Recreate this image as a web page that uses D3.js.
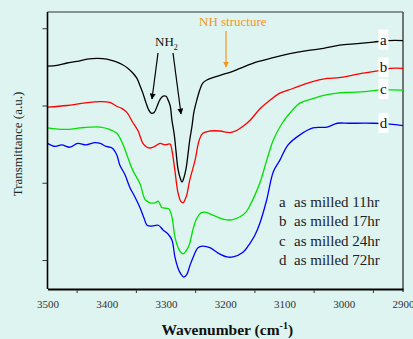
<!DOCTYPE html>
<html>
<head>
<meta charset="utf-8">
<script src="https://cdn.jsdelivr.net/npm/d3@7"></script>
<style>
  body { margin: 0; background: #ddf4f0; }
  svg { display: block; font-family: "Liberation Serif", "Times New Roman", serif; }
</style>
</head>
<body>
<div class="svg-div"></div>
<script>
// wavenumber (cm-1), transmittance (a.u.)
const seriesA = [[3500,3.51],[3484,3.52],[3467,3.55],[3450,3.57],[3433,3.60],[3416,3.61],[3400,3.60],[3386,3.57],
  [3374,3.53],[3364,3.48],[3356,3.42],[3349,3.35],[3344,3.26],[3339,3.16],[3334,3.04],[3329,2.94],[3325,2.90],
  [3320,2.91],[3315,2.99],[3310,3.08],[3305,3.12],[3300,3.12],[3297,3.08],[3293,3.00],[3290,2.81],[3286,2.62],
  [3283,2.40],[3280,2.19],[3276,2.06],[3273,2.01],[3270,2.06],[3266,2.19],[3263,2.36],[3260,2.55],[3256,2.74],
  [3253,2.91],[3248,3.07],[3243,3.20],[3238,3.29],[3231,3.33],[3221,3.36],[3209,3.39],[3192,3.43],[3175,3.48],
  [3148,3.56],[3119,3.62],[3091,3.67],[3062,3.71],[3034,3.74],[3007,3.78],[2978,3.80],[2950,3.82],[2924,3.84],[2900,3.84]];
const seriesB = [[3500,2.98],[3467,3.00],[3440,3.03],[3411,3.05],[3395,3.04],[3383,2.99],[3374,2.96],[3366,2.91],
  [3356,2.78],[3347,2.67],[3339,2.51],[3332,2.46],[3327,2.45],[3319,2.47],[3310,2.51],[3302,2.49],[3293,2.50],
  [3290,2.42],[3285,2.16],[3280,1.88],[3275,1.76],[3271,1.74],[3268,1.78],[3265,1.84],[3260,2.03],[3251,2.29],
  [3244,2.55],[3238,2.64],[3226,2.67],[3209,2.67],[3192,2.65],[3180,2.68],[3170,2.73],[3158,2.81],[3141,2.96],
  [3124,3.07],[3108,3.16],[3086,3.22],[3057,3.30],[3028,3.35],[3008,3.36],[2967,3.42],[2940,3.45],[2922,3.48],[2900,3.48]];
const seriesC = [[3500,2.71],[3470,2.69],[3445,2.71],[3428,2.72],[3411,2.72],[3395,2.69],[3383,2.64],[3374,2.52],
  [3366,2.36],[3356,2.16],[3344,1.99],[3335,1.78],[3327,1.74],[3319,1.74],[3313,1.76],[3307,1.68],[3300,1.67],
  [3295,1.66],[3290,1.56],[3285,1.30],[3280,1.17],[3275,1.10],[3271,1.08],[3266,1.12],[3261,1.19],[3254,1.41],
  [3248,1.54],[3241,1.61],[3234,1.62],[3221,1.58],[3204,1.53],[3189,1.52],[3175,1.56],[3165,1.62],[3158,1.71],
  [3150,1.84],[3141,2.01],[3130,2.29],[3119,2.55],[3104,2.77],[3090,2.91],[3074,3.03],[3052,3.09],[3028,3.14],
  [3011,3.16],[2991,3.17],[2964,3.18],[2940,3.20],[2900,3.20]];
const seriesD = [[3500,2.51],[3487,2.47],[3476,2.49],[3462,2.46],[3449,2.51],[3435,2.49],[3420,2.52],[3411,2.51],
  [3401,2.47],[3391,2.45],[3383,2.36],[3378,2.23],[3369,2.10],[3361,1.94],[3352,1.81],[3344,1.68],[3337,1.54],
  [3332,1.45],[3324,1.44],[3313,1.45],[3305,1.39],[3297,1.34],[3290,1.26],[3285,1.04],[3280,0.90],[3275,0.82],
  [3270,0.78],[3265,0.81],[3260,0.92],[3254,1.04],[3246,1.16],[3238,1.18],[3226,1.16],[3212,1.09],[3197,1.04],
  [3187,1.04],[3170,1.10],[3158,1.22],[3150,1.32],[3141,1.49],[3130,1.78],[3119,2.14],[3108,2.29],[3094,2.49],
  [3074,2.62],[3052,2.71],[3028,2.72],[3011,2.77],[2991,2.77],[2950,2.77],[2922,2.76],[2900,2.74]];

const curveLetters = ["a", "b", "c", "d"];
const legendText = ["as milled 11hr", "as milled 17hr", "as milled 24hr", "as milled 72hr"];
const colors = ["#000000", "#ff0000", "#00e000", "#0000ff"];
const xTicks = [3500, 3400, 3300, 3200, 3100, 3000, 2900];
const yTicks = [1, 2, 3, 4];

const svgWidth = 413, svgHeight = 339;
const margin = {top: 12, right: 10, bottom: 50, left: 47.5};
const width = svgWidth - margin.left - margin.right;
const height = svgHeight - margin.top - margin.bottom;

const svg = d3.select(".svg-div").append("svg")
  .attr("width", svgWidth)
  .attr("height", svgHeight);

svg.append("rect").attr("width", svgWidth).attr("height", svgHeight).attr("fill", "#ddf4f0");

const x = d3.scaleLinear().domain([3500, 2900]).range([0, width]);
const y = d3.scaleLinear().domain([0.625, 4.21]).range([height, 0]);

const g = svg.append("g")
  .attr("transform", "translate(" + margin.left + "," + margin.top + ")");

// frame top/right
g.append("line").attr("x1", 0).attr("x2", width).attr("y1", 0).attr("y2", 0)
  .attr("stroke", "#333").attr("stroke-width", 1.2);
g.append("line").attr("x1", width).attr("x2", width).attr("y1", 0).attr("y2", height + 3)
  .attr("stroke", "#555").attr("stroke-width", 1.6);

// curves
const line = d3.line()
  .x(function (d) { return x(d[0]) })
  .y(function (d) { return y(d[1]) })
  .curve(d3.curveCatmullRom.alpha(0.5));

const allSeries = [seriesA, seriesB, seriesC, seriesD];
allSeries.forEach(function (s, i) {
  g.append("path")
    .datum(s)
    .attr("fill", "none")
    .attr("stroke", colors[i])
    .attr("stroke-width", 1.3)
    .attr("d", line);
});

// x axis
const xAxis = g.append("g")
  .attr("class", "x axis")
  .attr("transform", "translate(0," + height + ")")
  .call(d3.axisBottom(x).tickValues(xTicks).tickSize(0).tickPadding(11).tickFormat(d3.format("d")));
xAxis.select(".domain").attr("stroke", "#000").attr("stroke-width", 2);
xAxis.selectAll("text").attr("font-size", 11).attr("fill", "#333")
  .attr("font-family", "Liberation Serif, serif");
xAxis.selectAll(".minor")
  .data([3450, 3350, 3250, 3150, 3050, 2950])
  .enter().append("line")
  .attr("x1", function (d) { return x(d) }).attr("x2", function (d) { return x(d) })
  .attr("y1", 1).attr("y2", 4).attr("stroke", "#333");

// y axis
const yAxis = g.append("g")
  .attr("class", "y axis")
  .call(d3.axisLeft(y).tickValues(yTicks).tickSize(5).tickFormat(""));
yAxis.select(".domain").attr("stroke", "#000").attr("stroke-width", 1.6)
  .attr("d", "M0," + height + "V0");
yAxis.selectAll(".tick line").attr("stroke", "#333");

// axis titles
const xt = svg.append("text")
  .attr("x", margin.left + width / 2 + 2)
  .attr("y", 335)
  .attr("text-anchor", "middle")
  .attr("font-size", 15.5).attr("font-weight", "bold").attr("fill", "#111");
xt.append("tspan").text("Wavenumber (cm");
xt.append("tspan").attr("font-size", 10).attr("dy", -6).text("-1");
xt.append("tspan").attr("dy", 6).text(")");

svg.append("text")
  .attr("transform", "translate(22,144) rotate(-90)")
  .attr("text-anchor", "middle")
  .attr("font-size", 13).attr("fill", "#222")
  .text("Transmittance (a.u.)");

// curve letters with white boxes
const labelAt = 2933;
curveLetters.forEach(function (c, i) {
  const s = allSeries[i];
  const v = s.find(function (d) { return d[0] <= labelAt })[1];
  const cy = y(v);
  g.append("rect")
    .attr("x", x(labelAt) - 5).attr("y", cy - 11)
    .attr("width", 10).attr("height", 20)
    .attr("fill", "#fff");
  g.append("text")
    .attr("x", x(labelAt)).attr("y", cy + 4)
    .attr("text-anchor", "middle")
    .attr("font-size", 15).attr("fill", "#111")
    .text(c);
});

// legend text
curveLetters.forEach(function (c, i) {
  svg.append("text").attr("x", 279).attr("y", 207 + i * 19.3)
    .attr("font-size", 15).attr("fill", "#222").text(c);
  svg.append("text").attr("x", 294).attr("y", 207 + i * 19.3)
    .attr("font-size", 15).attr("fill", "#222").text(legendText[i]);
});

// annotations
const defs = svg.append("defs");
function marker(id, col) {
  defs.append("marker").attr("id", id)
    .attr("viewBox", "0 0 10 10").attr("refX", 9).attr("refY", 5)
    .attr("markerWidth", 6).attr("markerHeight", 6)
    .attr("markerUnits", "userSpaceOnUse")
    .attr("orient", "auto")
    .append("path").attr("d", "M0,0L10,5L0,10z").attr("fill", col);
}
marker("arrBlack", "#000");
marker("arrOrange", "#f7941d");

const nh2 = svg.append("text").attr("x", 155).attr("y", 46).attr("font-size", 13).attr("fill", "#111");
nh2.append("tspan").text("NH");
nh2.append("tspan").attr("font-size", 8).attr("dy", 4).text("2");

svg.append("line").attr("x1", 158).attr("y1", 53).attr("x2", 152).attr("y2", 99)
  .attr("stroke", "#000").attr("stroke-width", 1.2).attr("marker-end", "url(#arrBlack)");
svg.append("line").attr("x1", 173).attr("y1", 53).attr("x2", 181).attr("y2", 114)
  .attr("stroke", "#000").attr("stroke-width", 1.2).attr("marker-end", "url(#arrBlack)");

svg.append("text").attr("x", 199).attr("y", 26).attr("font-size", 13).attr("fill", "#f7941d")
  .text("NH structure");
svg.append("line").attr("x1", 226).attr("y1", 31).attr("x2", 226).attr("y2", 67)
  .attr("stroke", "#f7941d").attr("stroke-width", 1.2).attr("marker-end", "url(#arrOrange)");
</script>
</body>
</html>
